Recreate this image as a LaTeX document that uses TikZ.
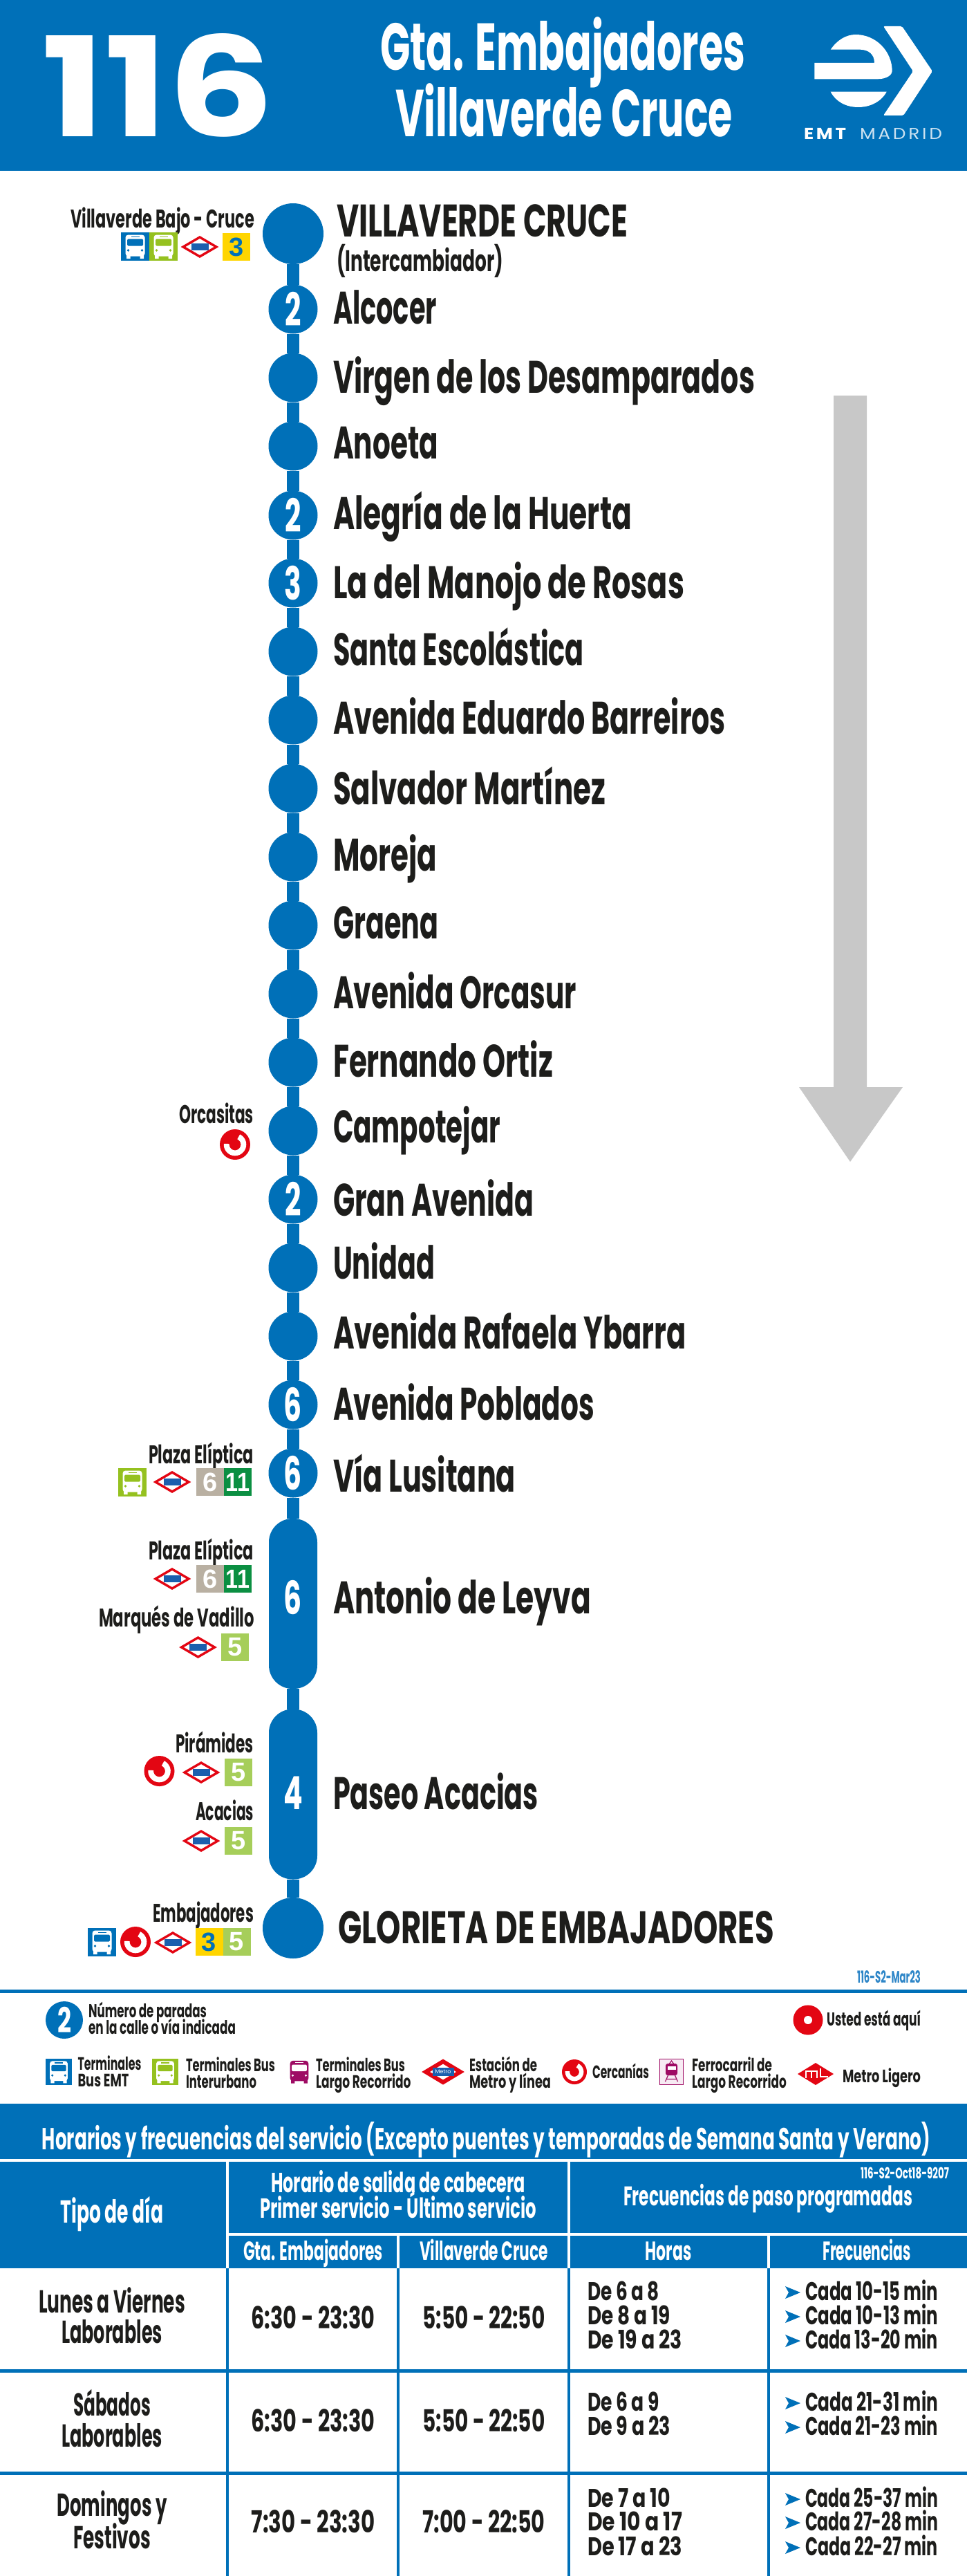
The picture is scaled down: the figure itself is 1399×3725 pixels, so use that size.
\documentclass[tikz,border=0pt]{standalone}
\usepackage{fontspec}
\usepackage{graphicx}
\setmainfont{Poppins}
\newfontfamily\arialf{Liberation Sans}
\newfontfamily\emtb[LetterSpace=14]{Poppins}
\definecolor{emt}{HTML}{0070B8}
\definecolor{ink}{HTML}{1D1D1B}
\definecolor{redm}{HTML}{E30613}
\definecolor{busg}{HTML}{95C11F}
\definecolor{lin5}{HTML}{A6CE5A}
\definecolor{lin3}{HTML}{FFD500}
\definecolor{lin6}{HTML}{B9B0A2}
\definecolor{lin11}{HTML}{0B8F42}
\definecolor{magb}{HTML}{9E0B64}
\definecolor{arrowg}{HTML}{C8C8C8}
\definecolor{bluem}{HTML}{1B5FAE}
\definecolor{codeb}{HTML}{2E86C8}
\newcounter{tn}
\newsavebox\fitbox
\newcommand\fitx[2]{\sbox\fitbox{#2}\pgfmathsetmacro\fitr{#1/\the\wd\fitbox}\scalebox{\fitr}[1]{\usebox\fitbox}}
% [style]{anchor}{size}{x}{baseline}{width}{text}
\newcommand\T[7][]{\stepcounter{tn}\node[txt,anchor=#2,font=\fontsize{#3}{#3}\selectfont\bfseries,#1] (t\arabic{tn}) at (#4,#5) {\fitx{#6}{#7}};}
% square: {x0}{y0}{size}{fill}{digit colour}{digit}
\newcommand\SQ[6]{\stepcounter{tn}\node[sqbox,fill=#4,text=#5,minimum size=#3] (t\arabic{tn}) at ({#1+#3/2},{#2+#3/2}) {#6};}
\newcommand\metroic[2]{\begin{scope}[shift={(#1,#2)}]
  \draw[redm,fill=white,line width=3.4] (-24,0)--(0,-14)--(24,0)--(0,14)--cycle;
  \fill[bluem] (-12.5,-5) rectangle (12.5,5);
\end{scope}}
% {cx}{cy}{radius}
\newcommand\cerc[3]{\begin{scope}[shift={(#1,#2)}]
  \pgfmathsetmacro\crad{#3*0.56}\pgfmathsetmacro\cwid{#3*0.36}
  \fill[redm] (0,0) circle [radius=#3];
  \draw[white,line width=\cwid] plot[smooth,domain=-65:185,samples=25] ({\crad*cos(\x)},{\crad*sin(\x)});
\end{scope}}
% {cx}{cy}{scale}{body}{window}
\newcommand\busbody[5]{\begin{scope}[shift={(#1,#2)},scale=#3]
  \fill[#4,rounded corners=4] (-14,-17) rectangle (14,14);
  \fill[#4] (-12.5,12) rectangle (-7,17.5) (7,12) rectangle (12.5,17.5);
  \fill[#5,rounded corners=1.5] (-11.5,-11) rectangle (11.5,-1);
  \fill[#5] (-6,-15) rectangle (6,-13.5);
  \fill[#5] (-10,5.5) circle [radius=1.8] (10,5.5) circle [radius=1.8];
\end{scope}}
% {x0}{y0}{size}{bg}
\newcommand\busic[4]{\fill[#4] (#1,#2) rectangle ++(#3,#3);
  \pgfmathsetmacro\bs{#3/41}\busbody{#1+#3/2}{#2+#3/2}{\bs}{white}{#4}}
\newcommand\farrow[1]{\fill[emt] (1136,#1-20)--(1158,#1-11)--(1136,#1-2)--(1141,#1-11)--cycle;}
\tikzset{
  txt/.style={inner sep=0pt,outer sep=0pt,text=ink},
  wtxt/.style={text=white},
  stem/.style={emt,line width=18},
  stopn/.style={circle,fill=emt,text=white,minimum size=71,inner sep=0pt,outer sep=0pt,font=\fontsize{66}{66}\selectfont\bfseries},
  bigstop/.style={stopn,minimum size=88},
  pill/.style={rectangle,fill=emt,minimum width=70,minimum height=246,rounded corners=34,inner sep=0pt,outer sep=0pt},
  digit/.style={inner sep=0pt,text=white,font=\fontsize{66}{66}\selectfont\bfseries},
  sqbox/.style={rectangle,inner sep=0pt,outer sep=0pt,font=\arialf\fontsize{38}{38}\selectfont\bfseries},
  wrule/.style={white,line width=4},
  brule/.style={emt,line width=4.5},
}
\begin{document}
\begin{tikzpicture}[x=1pt,y=-1pt]
\useasboundingbox (0,0) rectangle (1399,3725);
\fill[white] (0,0) rectangle (1399,3725);
% header
\fill[emt] (0,0) rectangle (1399,247);
\T[wtxt]{base west}{200}{60}{197}{337}{116}
\T[wtxt]{base west}{96}{550}{102}{528}{Gta. Embajadores}
\T[wtxt]{base west}{96}{572}{197}{488}{Villaverde Cruce}
\fill[white,rounded corners=2] (1278,38)--(1305,38)--(1349,103)--(1307,167)--(1278,167)--(1321,103)--cycle;
\fill[white] (1201.7,71.7) .. controls (1211,58) and (1224,50) .. (1238,50) .. controls (1267,50) and (1290.7,74) .. (1290.7,103) .. controls (1290.7,108) and (1283,114.3) .. (1270,114.3) -- (1178.3,114.3) -- (1178.3,91) -- (1265,91) .. controls (1265,78.3) and (1256.7,72.3) .. (1245,71.7) -- cycle;
\fill[white] (1201.7,132.7) -- (1282.7,132.7) .. controls (1275,147) and (1259,155) .. (1241.7,155) .. controls (1224,155) and (1209,147) .. (1201.7,132.7) -- cycle;
\stepcounter{tn}\node[txt,wtxt,anchor=base west,font=\emtb\fontsize{23}{23}\selectfont\bfseries] (t\arabic{tn}) at (1163,201.5) {\fitx{61}{EMT}};
\stepcounter{tn}\node[txt,anchor=base west,text=white!80!emt,font=\emtb\fontsize{23}{23}\selectfont] (t\arabic{tn}) at (1244,201.5) {\fitx{119}{MADRID}};
% direction arrow
\fill[arrowg] (1206,572)--(1254,572)--(1254,1572)--(1306,1572)--(1230,1680)--(1156,1572)--(1206,1572)--cycle;
% stops
\node[bigstop] (s1) at (424,338) {};
\foreach \i/\y/\d in {2/447/2,3/546/,4/645/,5/745/2,6/843/3,7/942/,8/1041/,9/1140/,10/1239/,11/1338/,12/1437/,13/1536/,14/1635/,15/1734/2,16/1833/,17/1932/,18/2031/6,19/2130/6}
  {\node[stopn] (s\i) at (424,\y) {\scalebox{0.62}[1]{\d}};}
\node[pill] (s20) at (424,2319) {};
\node[pill] (s21) at (424,2594.5) {};
\node[bigstop] (s22) at (424,2788) {};
\node[digit] (d20) at (424,2310) {\scalebox{0.62}[1]{6}};
\node[digit] (d21) at (424,2593) {\scalebox{0.62}[1]{4}};
\foreach \i in {1,...,21}{\pgfmathtruncatemacro\j{\i+1}\draw[stem] (s\i) -- (s\j);}
% stop names
\T{base west}{66}{487}{342}{421}{VILLAVERDE CRUCE}
\T{base west}{43}{487}{392}{241}{(Intercambiador)}
\foreach \b/\w/\n in {468/150/Alcocer,568/610/Virgen de los Desamparados,663/152/Anoeta,765/432/Alegría de la Huerta,865/508/La del Manojo de Rosas,962/363/Santa Escolástica,1061/568/Avenida Eduardo Barreiros,1163/394/Salvador Martínez,1259/150/Moreja,1357/152/Graena,1458/352/Avenida Orcasur,1557/318/Fernando Ortiz,1652/242/Campotejar,1758/290/Gran Avenida,1849/147/Unidad,1950/511/Avenida Rafaela Ybarra,2053/378/Avenida Poblados,2157/264/Vía Lusitana,2333/373/Antonio de Leyva,2616/297/Paseo Acacias}
  {\T{base west}{66}{482}{\b}{\w}{\n}}
\T{base west}{66}{489}{2810}{631}{GLORIETA DE EMBAJADORES}
% interchange labels and icons
\T{base east}{37}{368}{329}{266}{Villaverde Bajo - Cruce}
\busic{175}{336}{41}{emt}
\busic{216}{336}{41}{busg}
\metroic{289}{357}
\SQ{322}{337}{40}{lin3}{emt}{3}
\T{base east}{37}{367}{1624.5}{108}{Orcasitas}
\cerc{340}{1655}{22}
\T{base east}{37}{367}{2116}{152}{Plaza Elíptica}
\busic{171}{2123}{41}{busg}
\metroic{249}{2143}
\SQ{284}{2123}{40}{lin6}{white}{6}
\SQ{324}{2123}{40}{lin11}{white}{\scalebox{0.85}[1]{11}}
\T{base east}{37}{367}{2255}{152}{Plaza Elíptica}
\metroic{249}{2283}
\SQ{284}{2263}{40}{lin6}{white}{6}
\SQ{324}{2263}{40}{lin11}{white}{\scalebox{0.85}[1]{11}}
\T{base east}{37}{368}{2352}{225}{Marqués de Vadillo}
\metroic{286.5}{2382}
\SQ{320}{2362}{40}{lin5}{white}{5}
\T{base east}{37}{367}{2534}{113}{Pirámides}
\cerc{230.5}{2561}{22}
\metroic{291}{2563}
\SQ{325}{2543}{40}{lin5}{white}{5}
\T{base east}{37}{367}{2632}{84}{Acacias}
\metroic{291}{2662}
\SQ{325}{2642}{40}{lin5}{white}{5}
\T{base east}{37}{367}{2779}{146}{Embajadores}
\busic{127}{2788}{41}{emt}
\cerc{196}{2808}{22}
\metroic{250}{2809}
\SQ{282.5}{2788}{40}{lin3}{emt}{3}
\SQ{322.5}{2788}{40}{lin5}{white}{5}
\T[text=codeb]{base east}{24}{1332}{2867}{92}{116-S2-Mar23}
% legend
\fill[emt] (0,2876.5) rectangle (1399,2881.5);
\node[stopn,minimum size=54,font=\fontsize{50}{50}\selectfont\bfseries] (l2) at (93,2921) {\fitx{20}{2}};
\T{base west}{27}{128}{2917}{171}{Número de paradas}
\T{base west}{27}{128}{2941}{213}{en la calle o vía indicada}
\fill[redm] (1169,2921) circle [radius=21.5];
\fill[white] (1169,2921) circle [radius=6];
\T{base west}{27}{1196}{2929}{136}{Usted está aquí}
\busic{66}{2977}{38}{emt}
\T{base west}{26}{112.5}{2993}{92}{Terminales}
\T{base west}{26}{112.5}{3017}{74}{Bus EMT}
\busic{220}{2977}{38}{busg}
\T{base west}{26}{269}{2995}{129}{Terminales Bus}
\T{base west}{26}{269}{3019}{102}{Interurbano}
\busbody{433}{2996}{0.95}{magb}{white}
\T{base west}{26}{457}{2995}{129}{Terminales Bus}
\T{base west}{26}{457}{3019}{137.5}{Largo Recorrido}
\draw[redm,fill=white,line width=6] (616,2996)--(641,2981)--(666,2996)--(641,3011)--cycle;
\stepcounter{tn}\node[rectangle,fill=bluem,text=white,minimum width=31,minimum height=12,inner sep=0pt,font=\fontsize{8}{8}\selectfont] (t\arabic{tn}) at (641,2996) {Metro};
\T{base west}{26}{679}{2995}{98}{Estación de}
\T{base west}{26}{679}{3019}{118}{Metro y línea}
\cerc{831}{2996}{18}
\T{base west}{26}{857}{3005}{82}{Cercanías}
\draw[magb,fill=magb!8,line width=1.5] (954.5,2977.5) rectangle (988.5,3014.5);
\begin{scope}[shift={(971.5,2994)}]
  \fill[magb,rounded corners=3] (-8.5,-10) rectangle (8.5,7);
  \fill[white] (-6,-6) rectangle (6,-1);
  \draw[magb,line width=1.2] (-5,7)--(-9,16) (5,7)--(9,16) (-7,12.5)--(7,12.5) (-3,-10)--(0,-14)--(3,-10);
\end{scope}
\T{base west}{26}{1001}{2995}{116}{Ferrocarril de}
\T{base west}{26}{1001}{3019}{137}{Largo Recorrido}
\fill[redm] (1154,2999)--(1180,2983)--(1206,2999)--(1180,3015)--cycle;
\begin{scope}[shift={(1180,2999)}]
  \draw[white,line width=1.9] (-14,6)--(-14,-4)--(2,-4)--(2,6) (-6,-4)--(-6,6) (7,-8)--(7,4)--(18,4);
\end{scope}
\T{base west}{26}{1219}{3011}{113}{Metro Ligero}
% table header
\fill[emt] (0,3042) rectangle (1399,3280);
\draw[wrule] (0,3124)--(1399,3124);
\draw[wrule] (329,3124)--(329,3280) (823,3124)--(823,3280);
\draw[wrule] (329,3231)--(1399,3231);
\draw[wrule] (576,3231)--(576,3280) (1112,3231)--(1112,3280);
\T[wtxt]{base}{44}{703.5}{3108}{1285}{Horarios y frecuencias del servicio (Excepto puentes y temporadas de Semana Santa y Verano)}
\T[wtxt]{base}{46}{162}{3214}{149}{Tipo de día}
\T[wtxt]{base}{40}{576}{3170}{368}{Horario de salida de cabecera}
\T[wtxt]{base}{40}{576}{3207}{400}{Primer servicio - Último servicio}
\T[wtxt]{base}{39}{1111}{3189}{418}{Frecuencias de paso programadas}
\T[wtxt]{base east}{22}{1373}{3150.5}{128}{116-S2-Oct18-9207}
\T[wtxt]{base}{38}{453}{3268}{202}{Gta. Embajadores}
\T[wtxt]{base}{38}{700}{3268}{186}{Villaverde Cruce}
\T[wtxt]{base}{38}{967}{3268}{67}{Horas}
\T[wtxt]{base}{38}{1254}{3268}{128}{Frecuencias}
% table body
\draw[brule] (329,3280)--(329,3725) (576,3280)--(576,3725) (823,3280)--(823,3725) (1112,3280)--(1112,3725);
\draw[brule,line width=5] (0,3428)--(1399,3428) (0,3576)--(1399,3576);
\T{base}{46}{162}{3344}{212}{Lunes a Viernes}
\T{base}{46}{162}{3388}{146}{Laborables}
\T{base}{46}{162}{3493}{112}{Sábados}
\T{base}{46}{162}{3538}{146}{Laborables}
\T{base}{46}{162}{3638}{159}{Domingos y}
\T{base}{46}{162}{3685}{112}{Festivos}
\foreach \y/\a/\b in {3367/6:30 - 23:30/5:50 - 22:50,3516/6:30 - 23:30/5:50 - 22:50,3662/7:30 - 23:30/7:00 - 22:50}
  {\T{base}{44}{453}{\y}{179}{\a}\T{base}{44}{700}{\y}{177}{\b}}
\foreach \y/\w/\n in {3326/104/De 6 a 8,3361/120/De 8 a 19,3396/137/De 19 a 23,3486/104/De 6 a 9,3521/120/De 9 a 23,3625/120/De 7 a 10,3659/137/De 10 a 17,3695/137/De 17 a 23}
  {\T{base west}{37}{850}{\y}{\w}{\n}}
\foreach \y/\n in {3326/Cada 10-15 min,3361/Cada 10-13 min,3396/Cada 13-20 min,3486/Cada 21-31 min,3521/Cada 21-23 min,3625/Cada 25-37 min,3659/Cada 27-28 min,3695/Cada 22-27 min}
  {\farrow{\y}\T{base west}{37}{1165}{\y}{192}{\n}}
\end{tikzpicture}
\end{document}
